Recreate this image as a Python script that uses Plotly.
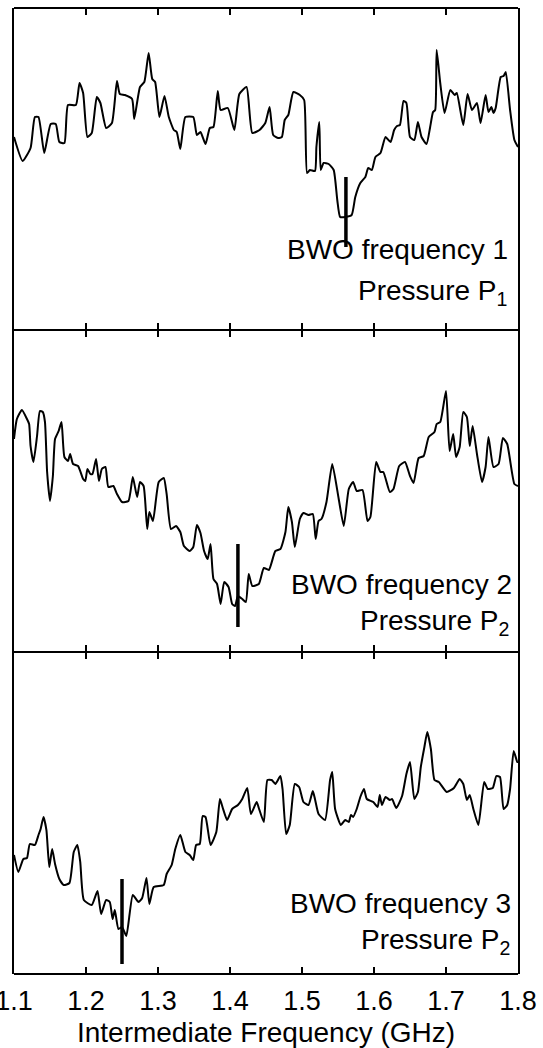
import plotly.graph_objects as go
from plotly.subplots import make_subplots

# ---- Data (frequency in GHz, signal in arbitrary units) ----
freq1 = [1.100,1.112,1.123,1.129,1.134,1.142,1.151,1.158,1.163,1.170,1.175,1.186,1.191,1.196,1.202,1.208,
         1.215,1.220,1.228,1.236,1.243,1.247,1.254,1.264,1.267,1.275,1.281,1.287,1.292,1.296,1.302,1.309,
         1.315,1.322,1.326,1.331,1.338,1.349,1.354,1.359,1.366,1.372,1.377,1.383,1.387,1.397,1.406,1.413,
         1.423,1.431,1.441,1.449,1.455,1.460,1.467,1.472,1.476,1.481,1.488,1.497,1.503,1.507,1.511,1.518,
         1.520,1.524,1.526,1.530,1.537,1.544,1.549,1.553,1.560,1.569,1.574,1.581,1.588,1.592,1.597,1.602,
         1.609,1.616,1.623,1.628,1.632,1.636,1.641,1.645,1.650,1.656,1.661,1.666,1.673,1.678,1.682,1.685,
         1.687,1.692,1.698,1.706,1.712,1.715,1.724,1.730,1.736,1.743,1.748,1.755,1.759,1.763,1.766,1.769,
         1.776,1.780,1.783,1.789,1.795,1.800]
sig1 = [193,169,182,213,213,177,206,206,188,187,225,225,247,237,193,197,
        233,227,202,207,249,236,235,231,211,243,248,277,251,248,213,234,
        213,200,198,181,213,213,195,198,186,202,203,239,220,222,200,236,
        243,197,200,207,223,195,192,193,210,215,238,235,230,157,160,159,
        183,208,160,167,166,160,130,113,113,115,133,147,153,162,160,173,
        177,193,188,200,204,205,229,227,193,190,208,193,186,203,218,220,
        280,247,217,240,235,237,205,236,220,227,207,235,218,223,217,222,
        253,254,258,220,190,183]

freq2 = [1.100,1.104,1.111,1.118,1.121,1.123,1.127,1.132,1.136,1.140,1.143,1.146,1.150,1.154,1.157,1.162,
         1.166,1.170,1.175,1.178,1.182,1.189,1.196,1.199,1.202,1.206,1.209,1.214,1.218,1.222,1.227,1.231,
         1.238,1.243,1.250,1.259,1.265,1.271,1.275,1.280,1.285,1.288,1.293,1.301,1.308,1.312,1.318,1.325,
         1.331,1.336,1.344,1.349,1.354,1.359,1.364,1.369,1.373,1.377,1.382,1.387,1.392,1.398,1.403,1.407,
         1.411,1.417,1.422,1.426,1.431,1.440,1.447,1.454,1.463,1.470,1.477,1.481,1.486,1.490,1.497,1.502,
         1.509,1.515,1.519,1.523,1.527,1.534,1.542,1.551,1.558,1.565,1.571,1.576,1.584,1.591,1.595,1.603,
         1.609,1.613,1.622,1.627,1.635,1.643,1.650,1.655,1.662,1.669,1.676,1.684,1.687,1.692,1.700,1.705,
         1.710,1.714,1.719,1.724,1.729,1.733,1.737,1.743,1.750,1.755,1.759,1.766,1.773,1.779,1.785,1.795,
         1.800]
sig2 = [213,233,242,233,228,206,190,216,241,240,230,180,151,176,213,221,
        230,195,191,198,188,186,173,171,183,178,178,193,171,183,185,165,
        166,158,150,151,175,155,170,166,123,140,131,170,174,158,123,126,
        120,106,101,105,127,119,101,93,108,73,68,48,70,65,48,46,
        56,53,50,78,66,68,84,82,101,103,120,145,130,105,133,139,
        137,138,113,131,133,150,188,153,126,163,170,161,162,131,135,190,
        180,180,160,163,186,190,176,169,194,196,215,220,228,230,261,201,
        218,195,205,240,235,206,226,198,170,185,215,185,188,214,208,168,
        166]

freq3 = [1.100,1.106,1.113,1.118,1.122,1.129,1.134,1.137,1.141,1.145,1.149,1.153,1.157,1.163,1.169,1.177,
         1.183,1.188,1.192,1.197,1.208,1.216,1.221,1.228,1.233,1.237,1.240,1.245,1.250,1.256,1.265,1.273,
         1.278,1.284,1.288,1.294,1.308,1.312,1.319,1.324,1.331,1.338,1.344,1.349,1.353,1.358,1.362,1.366,
         1.373,1.381,1.386,1.390,1.396,1.403,1.411,1.417,1.424,1.429,1.437,1.440,1.447,1.452,1.458,1.463,
         1.470,1.473,1.478,1.483,1.490,1.496,1.502,1.509,1.515,1.518,1.523,1.532,1.539,1.542,1.546,1.554,
         1.560,1.565,1.568,1.571,1.576,1.581,1.586,1.590,1.599,1.605,1.608,1.611,1.616,1.622,1.625,1.631,
         1.639,1.645,1.650,1.656,1.661,1.665,1.670,1.674,1.679,1.684,1.690,1.701,1.711,1.719,1.724,1.729,
         1.733,1.738,1.745,1.753,1.758,1.765,1.770,1.775,1.780,1.785,1.789,1.794,1.799,1.800]
sig3 = [119,102,115,116,130,129,139,145,157,144,107,125,110,95,89,91,
        122,129,112,74,69,83,60,74,72,55,64,45,47,38,79,72,
        76,96,70,87,89,100,109,125,139,122,119,114,129,130,158,157,
        129,142,175,166,154,165,169,175,186,160,172,166,152,194,194,190,
        198,185,140,149,190,187,172,169,183,175,160,154,194,202,165,149,
        154,152,159,157,165,177,185,175,172,167,179,169,177,174,175,166,
        178,200,212,175,182,207,227,242,225,194,192,182,186,195,190,174,
        179,165,149,192,185,186,198,197,165,169,185,223,212,212]

# BWO frequency markers (GHz) and their vertical extent (arb. units)
marker_freq = [1.561, 1.411, 1.250]
marker_lo = [83, 25, 10]
marker_hi = [153, 108, 95]

freq_labels = ["BWO frequency 1", "BWO frequency 2", "BWO frequency 3"]
press_labels = ["Pressure P<sub>1</sub>", "Pressure P<sub>2</sub>", "Pressure P<sub>2</sub>"]

tick_vals = [1.1, 1.2, 1.3, 1.4, 1.5, 1.6, 1.7, 1.8]
tick_text = ["1.1", "1.2", "1.3", "1.4", "1.5", "1.6", "1.7", "1.8"]

freqs = [freq1, freq2, freq3]
sigs = [sig1, sig2, sig3]

# ---- Layout geometry ----
W, H = 543, 1048
ML, MR, MT, MB = 14, 25, 8, 74
PW = W - ML - MR
PH = H - MT - MB
TICK_PX = 7
FONT = "Liberation Sans, Arial, Helvetica, sans-serif"

fig = make_subplots(rows=3, cols=1, shared_xaxes=True, vertical_spacing=0)

for i in range(3):
    r = i + 1
    fig.add_trace(go.Scatter(x=freqs[i], y=sigs[i], mode="lines",
                             line=dict(color="black", width=2, shape="spline", smoothing=0.5),
                             showlegend=False, hoverinfo="skip"), row=r, col=1)
    fig.add_trace(go.Scatter(x=[marker_freq[i], marker_freq[i]], y=[marker_lo[i], marker_hi[i]],
                             mode="lines", line=dict(color="black", width=3.5),
                             showlegend=False, hoverinfo="skip"), row=r, col=1)
    fig.update_yaxes(range=[0, 322], showticklabels=False, ticks="", showgrid=False,
                     zeroline=False, showline=True, mirror=True, linecolor="black",
                     linewidth=2, automargin=False, row=r, col=1)
    fig.update_xaxes(range=[1.1, 1.8], tickvals=tick_vals, ticktext=tick_text,
                     ticks="", showgrid=False, zeroline=False, showline=False,
                     showticklabels=(r == 3), ticklabelstandoff=8,
                     ticklabeloverflow="allow", automargin=False,
                     tickfont=dict(family=FONT, size=27, color="black"),
                     row=r, col=1)

fig.update_xaxes(title=dict(text="Intermediate Frequency (GHz)",
                            font=dict(family=FONT, size=28, color="black"), standoff=8),
                 row=3, col=1)

# panel border lines (top, between panels, bottom) with inward tick marks
dt = TICK_PX / PH
for yb in [0, 1 / 3, 2 / 3, 1]:
    fig.add_shape(type="line", xref="paper", yref="paper", x0=0, x1=1, y0=yb, y1=yb,
                  line=dict(color="black", width=2), layer="above")
    lo = yb - dt if yb > 0 else yb
    hi = yb + dt if yb < 1 else yb
    for tv in tick_vals[1:-1]:
        fig.add_shape(type="line", xref="x3", yref="paper", x0=tv, x1=tv, y0=lo, y1=hi,
                      line=dict(color="black", width=2), layer="above")

def px_x(p):
    return (p - ML) / PW

def px_y(p):
    return (H - MB - p) / PH

freq_pos = [(510, 249), (514, 584), (513, 903)]
press_pos = [(509, 292), (511, 622), (512, 941)]
for i in range(3):
    fig.add_annotation(text=freq_labels[i], xref="paper", yref="paper",
                       x=px_x(freq_pos[i][0]), y=px_y(freq_pos[i][1]),
                       xanchor="right", yanchor="middle", showarrow=False,
                       font=dict(family=FONT, size=28, color="black"))
    fig.add_annotation(text=press_labels[i], xref="paper", yref="paper",
                       x=px_x(press_pos[i][0]), y=px_y(press_pos[i][1]),
                       xanchor="right", yanchor="middle", showarrow=False,
                       font=dict(family=FONT, size=28, color="black"))

fig.update_layout(width=W, height=H, margin=dict(l=ML, r=MR, t=MT, b=MB, autoexpand=False),
                  paper_bgcolor="white", plot_bgcolor="white", showlegend=False)

fig.write_html("out.html", config={"displayModeBar": False},
               post_script="document.body.style.margin='0px';")
